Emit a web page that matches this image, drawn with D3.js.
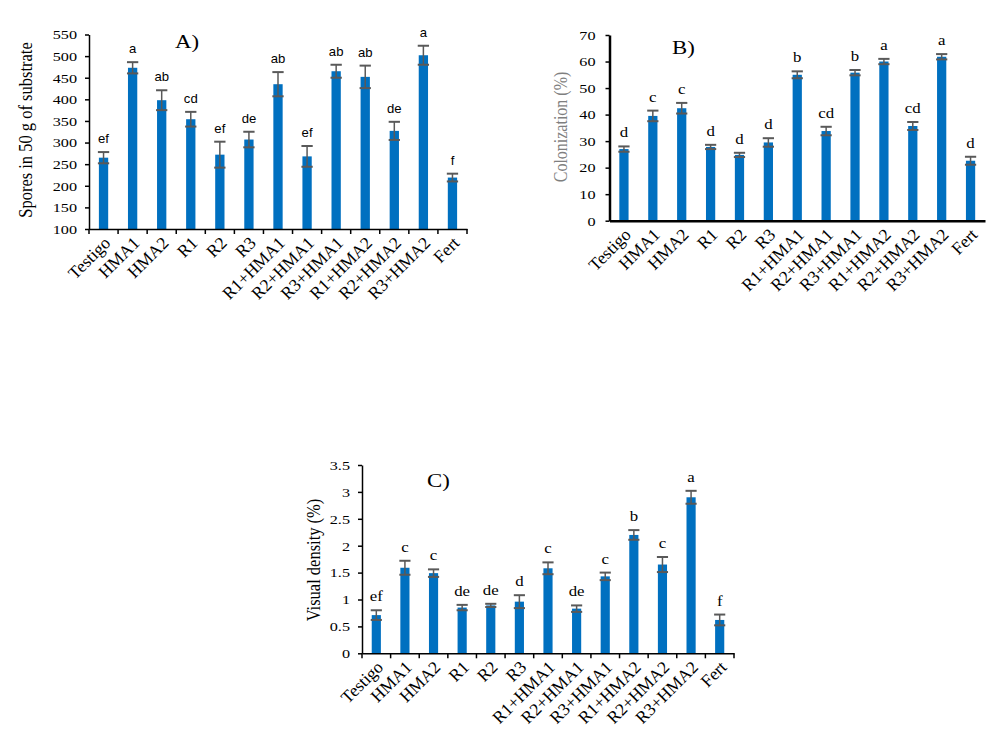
<!DOCTYPE html>
<html lang="en">
<head>
<meta charset="UTF-8">
<title>Spores, colonization and visual density</title>
<script src="https://d3js.org/d3.v7.min.js"></script>
<style>
    body { margin: 0; background: #fff; }
    svg { display: block; }
</style>
</head>
<body>
<div id="chart"></div>
<script>
    // treatments (same for all three panels)
    const treatments = ["Testigo", "HMA1", "HMA2", "R1", "R2", "R3", "R1+HMA1", "R2+HMA1",
        "R3+HMA1", "R1+HMA2", "R2+HMA2", "R3+HMA2", "Fert"];

    // A) spores in 50 g of substrate
    const sporesMean = [265, 473, 398, 354, 272, 307, 435, 268, 465, 452, 327, 502, 219];
    const sporesErr = [13, 13, 23, 17, 30, 18, 28, 24, 15, 26, 21, 22, 9];
    const sporesLetters = ["ef", "a", "ab", "cd", "ef", "de", "ab", "ef", "ab", "ab", "de", "a", "f"];

    // B) colonization (%)
    const colonMean = [27, 39.5, 42.4, 27.8, 24.8, 29.5, 55, 33.8, 55.8, 60, 35.7, 61.8, 22.6];
    const colonErr = [1, 2, 2, 0.8, 0.8, 1.6, 1.3, 1.6, 1, 1, 1.5, 1, 1.5];
    const colonLetters = ["d", "c", "c", "d", "d", "d", "b", "cd", "b", "a", "cd", "a", "d"];

    // C) visual density (%)
    const densMean = [0.71, 1.59, 1.49, 0.85, 0.89, 0.96, 1.58, 0.83, 1.43, 2.2, 1.65, 2.9, 0.62];
    const densErr = [0.09, 0.13, 0.07, 0.05, 0.03, 0.12, 0.11, 0.06, 0.07, 0.09, 0.14, 0.12, 0.1];
    const densLetters = ["ef", "c", "c", "de", "de", "d", "c", "de", "c", "b", "c", "a", "f"];

    const barColor = "#0070C0";
    const errColor = "#595959";
    const serif = "'Liberation Serif', 'Times New Roman', serif";
    const sans = "'Liberation Sans', Arial, sans-serif";
    // the original figure is a bit wider than tall, text looks stretched sideways
    const sx = 1.2;

    const svg = d3.select("#chart").append("svg")
        .attr("width", 1003)
        .attr("height", 750);

    function drawPanel(p) {
        const g = svg.append("g");

        const x = d3.scaleBand()
            .domain(treatments)
            .range([p.left, p.right])
            .paddingInner(0.68)
            .paddingOuter(0.34);

        const y = d3.scaleLinear()
            .domain(p.domain)
            .range([p.bottom, p.top]);

        // bars
        g.selectAll(".bar")
            .data(p.mean)
            .join("rect")
            .attr("x", (d, i) => x(treatments[i]))
            .attr("y", d => y(d))
            .attr("width", x.bandwidth())
            .attr("height", d => y(p.domain[0]) - y(d))
            .attr("fill", barColor);

        // error bars
        const cap = x.bandwidth() / 2 + 1;
        const eb = g.selectAll(".err")
            .data(p.mean)
            .join("g")
            .attr("transform", (d, i) => `translate(${x(treatments[i]) + x.bandwidth() / 2},0)`);
        eb.append("line")
            .attr("y1", (d, i) => y(d - p.err[i]))
            .attr("y2", (d, i) => y(d + p.err[i]))
            .attr("stroke", errColor).attr("stroke-width", 1.5);
        eb.append("line")
            .attr("x1", -cap).attr("x2", cap)
            .attr("y1", (d, i) => y(d + p.err[i]))
            .attr("y2", (d, i) => y(d + p.err[i]))
            .attr("stroke", errColor).attr("stroke-width", 2);
        eb.append("line")
            .attr("x1", -cap).attr("x2", cap)
            .attr("y1", (d, i) => y(d - p.err[i]))
            .attr("y2", (d, i) => y(d - p.err[i]))
            .attr("stroke", errColor).attr("stroke-width", 2);

        // letters
        g.selectAll(".letter")
            .data(p.letters)
            .join("text")
            .attr("transform", (d, i) =>
                `translate(${x(treatments[i]) + x.bandwidth() / 2},${y(p.mean[i] + p.err[i]) - 9}) scale(${p.letterSx},1)`)
            .attr("text-anchor", "middle")
            .attr("font-family", p.letterFont)
            .attr("font-size", p.letterSize)
            .text(d => d);

        // y axis
        const yAxis = g.append("g")
            .attr("transform", `translate(${p.left},0)`)
            .call(d3.axisLeft(y).tickValues(p.ticks).tickSize(4).tickSizeOuter(0).tickFormat(d3.format("")));
        yAxis.select(".domain").attr("stroke", "#000").attr("stroke-width", p.axisWidth);
        yAxis.selectAll(".tick line").attr("stroke", "#000").attr("stroke-width", 1.5);
        yAxis.selectAll(".tick text")
            .attr("font-family", serif)
            .attr("font-size", 13.5)
            .attr("fill", "#000")
            .attr("x", 0)
            .attr("transform", `translate(${p.tickGap},0) scale(${sx},1)`);

        // x axis
        const xAxis = g.append("g")
            .attr("transform", `translate(0,${p.bottom})`)
            .call(d3.axisBottom(x).tickSize(0).tickSizeOuter(0));
        xAxis.select(".domain").attr("stroke", "#000").attr("stroke-width", p.axisWidth);
        xAxis.selectAll(".tick text")
            .attr("font-family", serif)
            .attr("font-size", 17.5)
            .attr("fill", "#000")
            .attr("text-anchor", "end")
            .attr("x", 0).attr("y", 0).attr("dy", 0)
            .attr("transform", "translate(8,15) rotate(-45)");

        // category separator ticks on x axis
        if (p.xTicks) {
            const bounds = treatments.map(t => x(t) - x.step() * x.paddingInner() / 2);
            bounds.push(p.right);
            g.selectAll(".sep")
                .data(bounds)
                .join("line")
                .attr("x1", d => d).attr("x2", d => d)
                .attr("y1", p.bottom).attr("y2", p.bottom + 5)
                .attr("stroke", "#000").attr("stroke-width", 1.5);
        }

        // axis title
        g.append("text")
            .attr("transform", `translate(${p.titleX},${p.titleY}) scale(${sx},1) rotate(-90)`)
            .attr("text-anchor", "middle")
            .attr("font-family", serif)
            .attr("font-size", p.titleSize)
            .attr("fill", p.titleColor)
            .text(p.title);

        // panel label
        g.append("text")
            .attr("transform", `translate(${p.labelX},${p.labelY}) scale(${sx},1)`)
            .attr("font-family", serif)
            .attr("font-size", 19)
            .text(p.label);
    }

    drawPanel({
        left: 89, right: 467, top: 34.5, bottom: 229,
        domain: [100, 550], ticks: d3.range(100, 551, 50),
        mean: sporesMean, err: sporesErr, letters: sporesLetters,
        letterFont: sans, letterSize: 12.5, letterSx: 1.05, tickGap: -12, axisWidth: 1.5, xTicks: true,
        title: "Spores in 50 g of substrate", titleX: 32, titleY: 130, titleSize: 16.5, titleColor: "#000",
        label: "A)", labelX: 175, labelY: 48
    });

    drawPanel({
        left: 609.5, right: 985, top: 35, bottom: 220.7,
        domain: [0, 70], ticks: d3.range(0, 71, 10),
        mean: colonMean, err: colonErr, letters: colonLetters,
        letterFont: serif, letterSize: 14, letterSx: sx, tickGap: -14, axisWidth: 2.5, xTicks: false,
        title: "Colonization (%)", titleX: 567, titleY: 127, titleSize: 16, titleColor: "#7f7f7f",
        label: "B)", labelX: 672, labelY: 54
    });

    drawPanel({
        left: 362, right: 734, top: 465, bottom: 653.3,
        domain: [0, 3.5], ticks: d3.range(0, 3.51, 0.5),
        mean: densMean, err: densErr, letters: densLetters,
        letterFont: serif, letterSize: 14, letterSx: sx, tickGap: -12, axisWidth: 1.5, xTicks: true,
        title: "Visual density (%)", titleX: 320, titleY: 560, titleSize: 16.5, titleColor: "#000",
        label: "C)", labelX: 427, labelY: 487
    });
</script>
</body>
</html>
